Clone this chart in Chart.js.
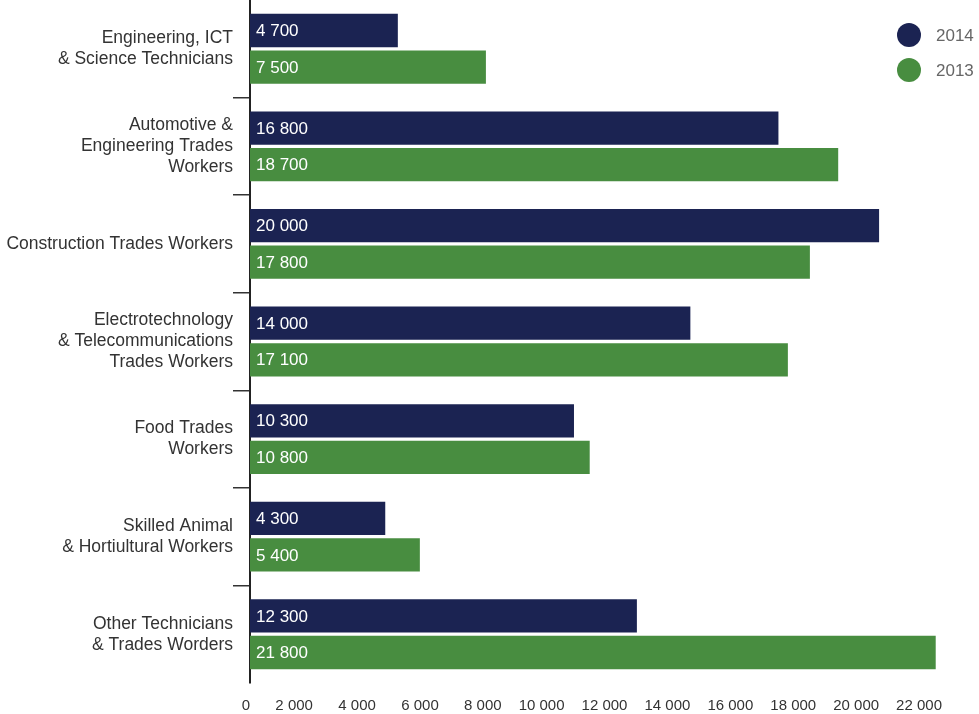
<!DOCTYPE html>
<html>
<head>
<meta charset="utf-8">
<script src="https://cdn.jsdelivr.net/npm/chart.js@4.4.1/dist/chart.umd.min.js"></script>
<style>
  html, body { margin: 0; padding: 0; background: #fff; }
  #wrap { width: 979px; height: 714px; position: relative; }
</style>
</head>
<body>
<div id="wrap"><canvas id="chart"></canvas></div>
<script>
const categories = [
  ['Engineering, ICT', '& Science Technicians'],
  ['Automotive &', 'Engineering Trades', 'Workers'],
  'Construction Trades Workers',
  ['Electrotechnology', '& Telecommunications', 'Trades Workers'],
  ['Food Trades', 'Workers'],
  ['Skilled Animal', '& Hortiultural Workers'],
  ['Other Technicians', '& Trades Worders']
];
const values2014 = [4700, 16800, 20000, 14000, 10300, 4300, 12300];
const values2013 = [7500, 18700, 17800, 17100, 10800, 5400, 21800];
const seriesNames = ['2014', '2013'];
const xMax = 22000;
const xStep = 2000;

const NAVY = '#1b2352';
const GREEN = '#488d40';
const FONT = "'Liberation Sans', Arial, Helvetica, sans-serif";

function fmtNum(n) {
  return String(n).replace(/\B(?=(\d{3})+(?!\d))/g, ' ');
}

// white value text inside each bar, left aligned
const barLabels = {
  id: 'barLabels',
  afterDatasetsDraw(chart) {
    const ctx = chart.ctx;
    ctx.save();
    ctx.fillStyle = '#ffffff';
    ctx.font = '17px ' + FONT;
    ctx.textAlign = 'left';
    ctx.textBaseline = 'middle';
    chart.data.datasets.forEach((ds, di) => {
      const meta = chart.getDatasetMeta(di);
      meta.data.forEach((bar, i) => {
        ctx.fillText(fmtNum(ds.data[i]), bar.base + 6, bar.y + 1);
      });
    });
    ctx.restore();
  }
};

// round-dot legend floating at top right
const dotLegend = {
  id: 'dotLegend',
  afterDraw(chart) {
    const ctx = chart.ctx;
    const cx = chart.chartArea.right - 33;
    ctx.save();
    ctx.font = '17px ' + FONT;
    ctx.textAlign = 'left';
    ctx.textBaseline = 'middle';
    chart.data.datasets.forEach((ds, i) => {
      const cy = 35 + i * 35;
      ctx.beginPath();
      ctx.arc(cx, cy, 12, 0, Math.PI * 2);
      ctx.fillStyle = ds.backgroundColor;
      ctx.fill();
      ctx.fillStyle = '#666666';
      ctx.fillText(ds.label, cx + 27, cy + 1);
    });
    ctx.restore();
  }
};

new Chart(document.getElementById('chart'), {
  type: 'bar',
  data: {
    labels: categories,
    datasets: [
      { label: seriesNames[0], data: values2014, backgroundColor: NAVY },
      { label: seriesNames[1], data: values2013, backgroundColor: GREEN }
    ]
  },
  options: {
    indexAxis: 'y',
    responsive: true,
    maintainAspectRatio: false,
    animation: false,
    categoryPercentage: 0.75,
    barPercentage: 0.91,
    layout: { padding: { top: 0, right: 37, bottom: 0, left: 0 } },
    plugins: { legend: { display: false }, tooltip: { enabled: false } },
    scales: {
      x: {
        min: 0, max: xMax,
        grid: { display: false },
        border: { display: false },
        ticks: {
          stepSize: xStep,
          align: 'end',
          padding: 6,
          color: '#333333',
          font: { family: FONT, size: 15 },
          callback: v => fmtNum(v)
        },
        afterFit: s => { s.height = 31; s.paddingLeft = 0; s.paddingRight = 0; }
      },
      y: {
        grid: {
          offset: true,
          drawOnChartArea: false,
          drawTicks: true,
          tickLength: 17,
          lineWidth: 1.5,
          color: c => (c.type !== 'tick' || c.index === 0) ? 'rgba(0,0,0,0)' : '#333333'
        },
        border: { display: true, color: '#222222', width: 2 },
        ticks: {
          padding: 0,
          color: '#333333',
          font: { family: FONT, size: 17.5, lineHeight: 1.2 }
        },
        afterFit: s => { s.width = 250; s.paddingTop = 0; s.paddingBottom = 0; }
      }
    }
  },
  plugins: [barLabels, dotLegend]
});
</script>
</body>
</html>
